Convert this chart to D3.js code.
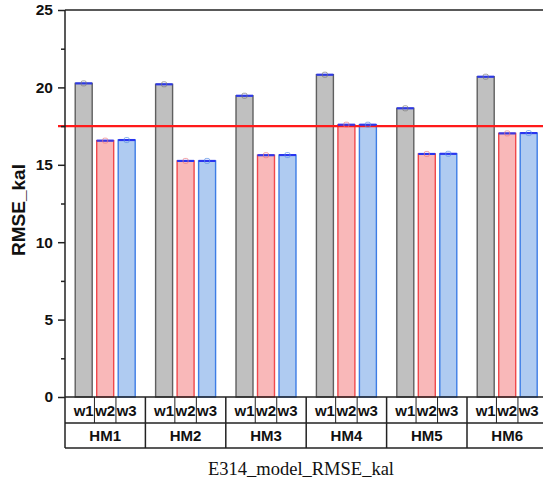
<!DOCTYPE html>
<html>
<head>
<meta charset="utf-8">
<script src="https://cdn.jsdelivr.net/npm/d3@7"></script>
<style>
  html, body { margin: 0; padding: 0; background: #fff; }
  svg { display: block; }
</style>
</head>
<body>
<script>
// Data
const groups = ["HM1", "HM2", "HM3", "HM4", "HM5", "HM6"];
const series = ["w1", "w2", "w3"];
const w1 = [20.26, 20.20, 19.46, 20.82, 18.65, 20.69];
const w2 = [16.56, 15.25, 15.62, 17.59, 15.70, 17.03];
const w3 = [16.60, 15.25, 15.63, 17.59, 15.71, 17.05];
const errW1 = [0.03, 0.03, 0.03, 0.03, 0.03, 0.03];
const errW2 = [0.03, 0.03, 0.03, 0.03, 0.03, 0.03];
const errW3 = [0.03, 0.03, 0.03, 0.03, 0.03, 0.03];
const refLine = 17.5;
const yTicks = [0, 5, 10, 15, 20, 25];
const yMinorTicks = [2.5, 7.5, 12.5, 17.5, 22.5];
const yTitle = "RMSE_kal";
const caption = "E314_model_RMSE_kal";

const values = { w1, w2, w3 };
const errors = { w1: errW1, w2: errW2, w3: errW3 };
const fills = { w1: "#c0c0c0", w2: "#f9b8b9", w3: "#afcbf1" };
const strokes = { w1: "#5f5f5f", w2: "#f0484c", w3: "#3d7de6" };
const markerColors = { w1: "#7a7a7a", w2: "#ee7b80", w3: "#5d93e6" };

const W = 543, H = 490;
const plotLeft = 65, plotTop = 10, plotBottom = 397;
const plotRight = 65 + 6 * 80.4;

const svg = d3.select("body").append("svg").attr("width", W).attr("height", H);

const x = d3.scaleBand().domain(groups).range([plotLeft, plotRight]).padding(0);
const xs = d3.scaleBand().domain(series).range([0, x.bandwidth()])
  .paddingInner(0.21).paddingOuter(0.475);
const y = d3.scaleLinear().domain([0, 25]).range([plotBottom, plotTop]);

// Bars
const rows = [];
groups.forEach((g, i) => series.forEach(s => rows.push({ g, s, v: values[s][i], e: errors[s][i] })));

const barG = svg.append("g");
barG.selectAll("rect").data(rows).join("rect")
  .attr("x", d => x(d.g) + xs(d.s))
  .attr("y", d => y(d.v))
  .attr("width", xs.bandwidth())
  .attr("height", d => y(0) - y(d.v))
  .attr("fill", d => fills[d.s])
  .attr("stroke", d => strokes[d.s])
  .attr("stroke-width", 1.4);

// Reference line
svg.append("line")
  .attr("x1", 58).attr("x2", W + 10)
  .attr("y1", y(refLine)).attr("y2", y(refLine))
  .attr("stroke", "#ff1a1a").attr("stroke-width", 2.2);

// Error bars with caps
const errG = svg.append("g");
rows.forEach(d => {
  const x0 = x(d.g) + xs(d.s);
  const xc = x0 + xs.bandwidth() / 2;
  [d.v + d.e, d.v - d.e].forEach(v => {
    errG.append("line")
      .attr("x1", x0).attr("x2", x0 + xs.bandwidth())
      .attr("y1", y(v)).attr("y2", y(v))
      .attr("stroke", "#2a36f0").attr("stroke-width", 1.2);
  });
  errG.append("line")
    .attr("x1", xc).attr("x2", xc)
    .attr("y1", y(d.v + d.e)).attr("y2", y(d.v - d.e))
    .attr("stroke", "#2a36f0").attr("stroke-width", 1);
  errG.append("rect")
    .attr("x", xc - 2.5).attr("y", y(d.v) - 2.5)
    .attr("width", 5).attr("height", 5).attr("rx", 1.5)
    .attr("fill", "none")
    .attr("stroke", markerColors[d.s]).attr("stroke-opacity", 0.7)
    .attr("stroke-width", 1);
});

// Y axis
const axisColor = "#222";
const yAxis = svg.append("g").attr("transform", `translate(${plotLeft},0)`)
  .call(d3.axisLeft(y).tickValues(yTicks).tickSize(7).tickPadding(5).tickFormat(d3.format("d")));
yAxis.select(".domain").remove();
yAxis.selectAll(".tick line").attr("stroke", axisColor).attr("stroke-width", 1.5);
yAxis.selectAll(".tick text")
  .attr("font-family", "'Liberation Sans', Arial, sans-serif")
  .attr("font-weight", "bold").attr("font-size", 15.5).attr("fill", "#111");

svg.append("g").attr("transform", `translate(${plotLeft},0)`)
  .call(d3.axisLeft(y).tickValues(yMinorTicks).tickSize(4).tickFormat(""))
  .call(g => g.select(".domain").remove())
  .selectAll(".tick line").attr("stroke", axisColor).attr("stroke-width", 1.5);

svg.append("line")
  .attr("x1", plotLeft).attr("x2", plotLeft).attr("y1", plotTop).attr("y2", plotBottom)
  .attr("stroke", axisColor).attr("stroke-width", 1.5);
svg.append("line")
  .attr("x1", plotLeft).attr("x2", W + 10).attr("y1", plotTop).attr("y2", plotTop)
  .attr("stroke", axisColor).attr("stroke-width", 1.5);

// Y axis title
svg.append("text")
  .attr("transform", `translate(25,210) rotate(-90)`)
  .attr("text-anchor", "middle")
  .attr("font-family", "'Liberation Sans', Arial, sans-serif")
  .attr("font-weight", "bold").attr("font-size", 19).attr("fill", "#111")
  .text(yTitle);

// Category table under the axis
const row1 = plotBottom, row2 = 423, row3 = 448;
const tbl = svg.append("g").attr("stroke", axisColor).attr("stroke-width", 1.5);
tbl.append("line").attr("x1", plotLeft).attr("x2", W + 10).attr("y1", row1).attr("y2", row1);
tbl.append("line").attr("x1", plotLeft).attr("x2", W + 10).attr("y1", row2).attr("y2", row2);
tbl.append("line").attr("x1", plotLeft).attr("x2", W + 10).attr("y1", row3).attr("y2", row3);

groups.forEach(g => {
  const gx = x(g);
  tbl.append("line").attr("x1", gx).attr("x2", gx).attr("y1", row1).attr("y2", row3);
  // dividers between sub-cells at midpoints of neighbouring bars
  for (let k = 1; k < series.length; k++) {
    const a = xs(series[k - 1]) + xs.bandwidth() / 2;
    const b = xs(series[k]) + xs.bandwidth() / 2;
    const dx = gx + (a + b) / 2;
    tbl.append("line").attr("x1", dx).attr("x2", dx).attr("y1", row1).attr("y2", row2)
      .attr("stroke-width", 1);
  }
});
tbl.append("line").attr("x1", plotRight).attr("x2", plotRight).attr("y1", row1).attr("y2", row3);

const labG = svg.append("g")
  .attr("font-family", "'Liberation Sans', Arial, sans-serif")
  .attr("font-weight", "bold").attr("fill", "#111").attr("text-anchor", "middle");
rows.forEach(d => {
  labG.append("text")
    .attr("x", x(d.g) + xs(d.s) + xs.bandwidth() / 2)
    .attr("y", 416).attr("font-size", 15).text(d.s);
});
groups.forEach(g => {
  labG.append("text")
    .attr("x", x(g) + x.bandwidth() / 2)
    .attr("y", 441).attr("font-size", 15).text(g);
});

// Caption
svg.append("text")
  .attr("x", 301).attr("y", 475)
  .attr("text-anchor", "middle")
  .attr("font-family", "'Liberation Serif', 'Times New Roman', serif")
  .attr("font-size", 18.5).attr("fill", "#111")
  .text(caption);
</script>
</body>
</html>
